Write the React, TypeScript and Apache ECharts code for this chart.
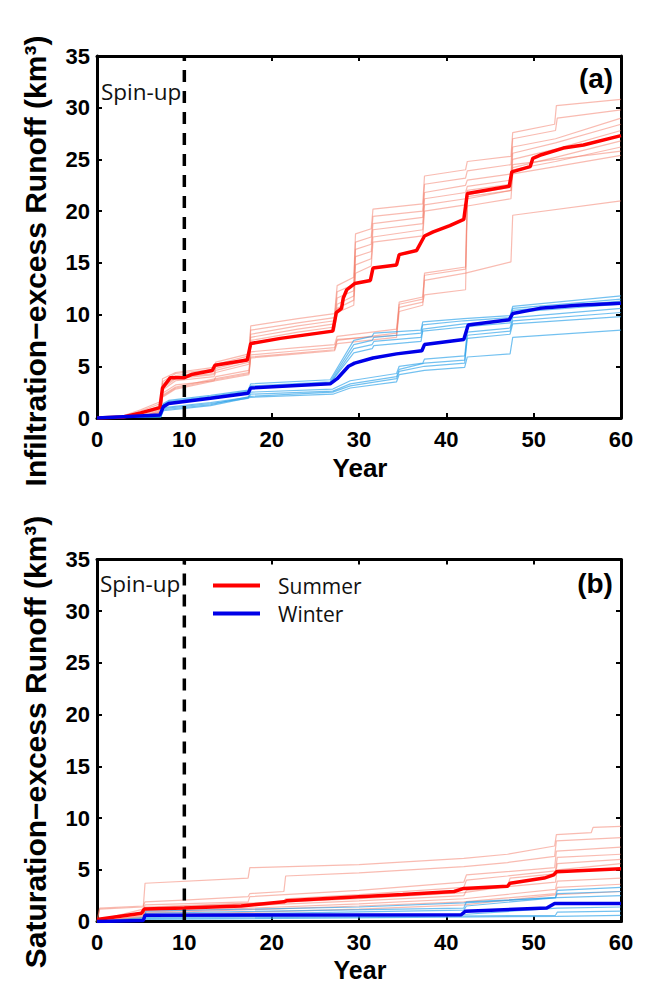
import React, { useEffect, useRef } from 'react';
import * as echarts from 'echarts';

// ---------- DATA (year, cumulative runoff km³) ----------
const xTicks = [0, 10, 20, 30, 40, 50, 60];
const yTicks = [0, 5, 10, 15, 20, 25, 30, 35];
const spinUpYear = 10;

// Panel (a): infiltration-excess runoff
const aSummerMean = [[0,0],[3,0.1],[5,0.5],[7.2,1.0],[7.5,2.9],[8.4,3.9],[10,3.9],[10.8,4.2],[13.2,4.6],[13.5,5.1],[17.2,5.6],[17.6,7.2],[21,7.7],[27,8.4],[27.4,10.2],[28,10.6],[28.2,11.6],[28.6,12.4],[29.5,13.0],[31.3,13.3],[31.6,14.5],[34.3,14.8],[34.6,15.8],[36.6,16.2],[37.5,17.6],[38.5,18.0],[40.4,18.6],[42,19.2],[42.4,21.7],[47.2,22.4],[47.5,23.8],[49.6,24.3],[49.9,25.1],[50.7,25.4],[53.4,26.1],[55.7,26.4],[60,27.3]];
const aWinterMean = [[0,0],[7.2,0.3],[7.6,1.1],[8.2,1.4],[13,1.9],[17.3,2.4],[17.6,2.9],[26.7,3.3],[27.5,3.8],[28.8,5.0],[29.5,5.3],[31.6,5.8],[34.3,6.2],[37.2,6.5],[37.5,7.1],[42,7.6],[42.5,9.0],[47.2,9.5],[47.6,10.1],[50.7,10.6],[55,10.9],[60,11.1]];

const aSummerRuns = [
  [[0,0],[3,0.2],[5,0.8],[7.3,1.6],[7.5,3.8],[9,4.4],[13.4,4.9],[13.6,5.4],[17.4,6.2],[17.6,8.9],[23,9.6],[27.2,10.1],[27.5,12.8],[29.4,13.6],[29.6,17.8],[31.4,18.3],[31.6,20.2],[37.3,20.7],[37.5,23.4],[42.2,24.0],[42.4,24.8],[47.4,25.3],[47.6,27.6],[52.4,28.4],[52.6,30.2],[60,30.8]],
  [[0,0],[3.5,0.2],[7.3,1.4],[7.5,3.5],[9,4.3],[13.4,4.7],[13.6,5.2],[17.4,6.0],[17.6,8.5],[23,9.2],[27.2,9.7],[27.5,12.2],[29.4,12.9],[29.6,17.0],[31.4,17.5],[31.6,19.5],[37.3,20.0],[37.5,22.6],[42.2,23.2],[42.4,23.9],[47.4,24.5],[47.6,27.0],[52.5,27.8],[52.7,29.0],[60,29.8]],
  [[0,0],[4,0.2],[7.3,1.2],[7.5,3.3],[9,4.1],[13.4,4.5],[13.6,5.0],[17.4,5.8],[17.6,8.1],[23,8.9],[27.2,9.4],[27.5,11.6],[29.4,12.3],[29.6,16.3],[31.4,16.8],[31.6,18.8],[37.3,19.4],[37.5,21.8],[42.2,22.5],[42.4,23.0],[47.4,23.6],[47.6,26.2],[52.5,27.0],[60,29.0]],
  [[0,0],[4,0.1],[7.3,1.0],[7.5,3.1],[9,3.9],[13.4,4.3],[13.6,4.8],[17.4,5.6],[17.6,7.8],[23,8.6],[27.2,9.1],[27.5,11.0],[29.4,11.8],[29.6,15.6],[31.4,16.1],[31.6,18.2],[37.3,18.8],[37.5,21.2],[42.2,21.8],[42.4,22.4],[47.4,23.0],[47.6,25.6],[52.5,26.6],[60,28.4]],
  [[0,0],[4.5,0.1],[7.3,0.9],[7.5,2.9],[9,3.8],[13.4,4.2],[13.6,4.6],[17.4,5.4],[17.6,7.5],[23,8.3],[27.2,8.8],[27.5,10.6],[29.4,11.4],[29.6,14.8],[31.4,15.4],[31.6,17.5],[37.3,18.2],[37.5,20.6],[42.2,21.2],[42.4,22.0],[47.4,22.6],[47.6,25.0],[52.5,26.0],[60,27.8]],
  [[0,0],[5,0.1],[7.3,0.8],[7.5,2.7],[9,3.6],[13.4,4.0],[13.6,4.4],[17.4,5.2],[17.6,7.2],[23,8.0],[27.2,8.5],[27.5,10.2],[29.4,10.9],[29.6,14.0],[31.4,14.7],[31.6,17.0],[37.3,17.6],[37.5,20.0],[42.2,20.6],[42.4,21.4],[47.4,22.0],[47.6,24.2],[52.5,25.2],[60,26.8]],
  [[0,0],[5,0.1],[7.3,0.7],[7.5,2.4],[9,3.2],[13.4,3.6],[13.6,4.0],[17.4,4.6],[17.6,6.4],[23,6.8],[27.2,7.1],[27.5,7.9],[34.3,8.6],[34.6,11.2],[37.3,11.7],[37.5,13.8],[42.2,14.4],[42.4,21.2],[47.4,22.0],[47.6,24.0],[52.5,24.8],[60,26.2]],
  [[0,0],[5,0.1],[7.3,0.6],[7.5,2.2],[9,3.0],[13.6,3.8],[17.4,4.4],[17.6,6.1],[23,6.5],[27.2,6.8],[27.5,7.5],[34.3,8.2],[34.6,10.7],[37.3,11.2],[37.5,11.9],[42.2,12.4],[42.4,20.5],[47.4,21.2],[47.6,23.6],[52.5,24.3],[60,25.4]],
  [[0,0],[5.5,0.1],[7.3,0.5],[7.5,2.0],[9,2.8],[13.6,3.6],[17.4,4.2],[17.6,5.8],[23,6.2],[27.2,6.5],[27.5,7.2],[34.3,7.8],[34.6,10.3],[37.3,10.9],[37.5,13.3],[42.2,14.0],[47.4,15.1],[47.6,19.6],[60,21.0]],
  [[0,0],[5.5,0.1],[7.3,0.6],[7.5,2.1],[9,2.9],[13.6,3.7],[17.4,4.3],[17.6,5.9],[27.2,6.6],[27.5,7.6],[34.3,8.0],[34.6,11.0],[37.3,11.5],[37.5,14.0],[42.2,14.6],[42.4,21.6],[47.4,22.3],[47.6,24.5],[60,25.8]],
];
const aWinterRuns = [
  [[0,0],[7.3,0.3],[7.6,1.4],[8.2,1.7],[13,2.2],[17.3,2.7],[17.6,3.3],[26.7,3.7],[27.2,4.4],[29.4,7.5],[31.5,7.9],[31.7,8.2],[37.1,8.5],[37.3,9.3],[42,9.6],[47.3,9.9],[47.6,10.8],[60,11.8]],
  [[0,0],[7.3,0.3],[7.6,1.3],[8.2,1.6],[13,2.1],[17.3,2.6],[17.6,3.1],[26.7,3.5],[27.2,4.2],[29.4,7.1],[31.5,7.5],[31.7,7.8],[37.1,8.2],[37.3,9.0],[42,9.4],[47.3,9.7],[47.6,10.6],[60,11.5]],
  [[0,0],[7.3,0.2],[7.6,1.2],[8.2,1.5],[13,2.0],[17.3,2.5],[17.6,3.0],[26.7,3.4],[27.2,4.0],[29.4,6.7],[31.5,7.1],[31.7,7.4],[37.1,7.8],[37.3,8.6],[42,9.1],[47.3,9.4],[47.6,10.4],[60,11.3]],
  [[0,0],[7.3,0.2],[7.6,1.1],[8.2,1.4],[13,1.9],[17.3,2.4],[17.6,2.9],[26.7,3.3],[27.2,3.9],[29.4,6.3],[31.5,6.7],[31.7,7.0],[37.1,7.4],[37.3,8.4],[42,8.8],[47.3,9.2],[47.6,10.2],[60,11.0]],
  [[0,0],[7.3,0.2],[7.6,1.0],[13,1.5],[17.3,2.0],[17.6,2.5],[27,2.8],[29,3.6],[34.3,4.3],[34.6,5.0],[37.3,5.3],[37.5,5.7],[42.1,6.0],[42.4,8.3],[47.3,8.7],[47.6,9.7],[60,10.6]],
  [[0,0],[7.3,0.1],[7.6,0.9],[13,1.4],[17.3,1.9],[17.6,2.3],[27,2.6],[29,3.3],[34.3,4.0],[34.6,4.7],[37.5,5.3],[42.1,5.6],[42.4,8.0],[47.3,8.4],[47.6,9.4],[60,10.2]],
  [[0,0],[7.3,0.1],[7.6,0.8],[13,1.3],[17.6,2.1],[27,2.5],[29,3.1],[34.3,3.8],[34.6,4.5],[37.5,5.0],[42.1,5.3],[42.4,7.7],[47.3,8.1],[47.6,9.1],[60,9.8]],
  [[0,0],[7.3,0.1],[7.6,0.7],[13,1.2],[17.6,2.0],[27,2.3],[29,2.9],[34.3,3.5],[34.6,4.2],[37.5,4.6],[42.1,4.9],[42.4,5.9],[47.3,6.2],[47.6,7.8],[60,8.5]],
];

// Panel (b): saturation-excess runoff
const bSummerMean = [[0,0.2],[5.1,0.8],[5.4,1.2],[10,1.3],[16.5,1.5],[21.4,1.9],[21.7,2.0],[30,2.4],[35,2.6],[40.9,2.9],[42,3.2],[47,3.4],[47.3,3.7],[51.2,4.2],[52.3,4.5],[52.6,4.8],[60,5.1]];
const bWinterMean = [[0,0],[5.3,0.1],[5.5,0.6],[41.7,0.65],[42.2,1.0],[51.5,1.3],[52.4,1.75],[60,1.75]];

const bSummerRuns = [
  [[0,0],[0.3,1.2],[5.3,1.4],[5.5,3.7],[17.3,4.2],[17.5,5.2],[30,5.5],[42,6.1],[47,6.5],[52.4,7.3],[52.6,8.4],[56.6,8.6],[56.8,9.1],[60,9.2]],
  [[0,0],[0.3,1.3],[5.3,1.5],[5.5,1.9],[10.5,2.1],[17.3,2.4],[17.5,2.7],[21.4,2.9],[21.6,4.4],[30,4.7],[42,5.3],[47,5.7],[52.4,6.3],[52.6,7.8],[60,8.1]],
  [[0,0.1],[5.3,1.2],[5.5,1.6],[17.3,1.9],[17.5,2.4],[30,3.0],[42,3.8],[42.3,4.5],[52.4,5.2],[52.6,6.8],[60,7.2]],
  [[0,0.1],[5.3,0.9],[5.5,1.4],[21.4,1.9],[21.6,2.2],[30,2.6],[42,3.3],[42.3,4.0],[47,4.4],[52.5,4.9],[52.7,6.2],[60,6.5]],
  [[0,0],[5.3,0.6],[5.5,1.3],[30,2.2],[42,2.8],[47,3.4],[47.3,4.2],[52.5,4.6],[52.7,5.6],[60,6.0]],
  [[0,0],[5.3,0.5],[5.5,1.1],[30,2.0],[42,2.5],[42.3,3.0],[52.5,3.8],[52.7,5.0],[60,5.6]],
  [[0,0],[5.3,0.4],[5.5,0.9],[30,1.7],[42,2.2],[52.5,3.1],[52.7,3.9],[60,4.2]],
  [[0,0],[5.3,0.3],[5.5,0.8],[30,1.5],[42,1.9],[52.5,2.7],[52.7,3.3],[60,3.6]],
  [[0,0],[5.3,0.3],[5.5,0.6],[30,1.2],[42,1.6],[52.7,2.6],[60,2.9]],
];
const bWinterRuns = [
  [[0,0],[5.4,0.1],[5.6,1.0],[30,1.4],[42,1.8],[52.5,2.3],[52.7,3.0],[60,3.3]],
  [[0,0],[5.4,0.1],[5.6,0.8],[42,1.3],[42.3,1.9],[52.5,2.3],[52.7,2.7],[60,2.9]],
  [[0,0],[5.4,0.1],[5.6,0.6],[42,1.1],[42.3,1.5],[52.7,2.3],[60,2.5]],
  [[0,0],[5.6,0.4],[42.3,0.7],[52.7,1.3],[60,1.4]],
  [[0,0],[5.6,0.3],[52.5,0.6],[52.7,0.9],[60,1.0]],
  [[0,0],[5.6,0.2],[52.7,0.5],[60,0.6]],
];

// ---------- STYLE ----------
const TICK_FONT = "'Liberation Sans', Arial, Helvetica, sans-serif";
const TEXT_FONT = "'Open Sans', 'Noto Sans', sans-serif";
const SUMMER = '#ff0000';
const WINTER = '#0000e8';
const SUMMER_LIGHT = 'rgba(244,120,100,0.5)';
const WINTER_LIGHT = 'rgba(40,160,232,0.65)';

function buildOption() {
  const grids = [
    { left: 97, top: 56, width: 524, height: 362 },
    { left: 97, top: 559.5, width: 524, height: 362 },
  ];
  const axisLine = { show: true, onZero: false, lineStyle: { color: '#000', width: 3 } };
  const axisTick = { show: true, inside: true, length: 5, lineStyle: { color: '#000', width: 2 } };
  const labelStyle = { color: '#000', fontFamily: TICK_FONT, fontWeight: 'bold' as const, fontSize: 22 };
  const xAxes: any[] = [];
  const yAxes: any[] = [];
  for (let g = 0; g < 2; g++) {
    ['bottom', 'top'].forEach((pos, k) => {
      xAxes.push({
        type: 'value', gridIndex: g, position: pos, min: xTicks[0], max: xTicks[xTicks.length - 1], interval: 10,
        axisLine, axisTick, splitLine: { show: false },
        axisLabel: { show: k === 0, margin: 10, ...labelStyle },
      });
    });
    ['left', 'right'].forEach((pos, k) => {
      yAxes.push({
        type: 'value', gridIndex: g, position: pos, min: yTicks[0], max: yTicks[yTicks.length - 1], interval: 5,
        axisLine, axisTick, splitLine: { show: false },
        axisLabel: { show: k === 0, margin: 7, ...labelStyle },
      });
    });
  }

  const series: any[] = [];
  const line = (data: number[][], g: number, color: string, width: number, name?: string, z = 2) => ({
    type: 'line', name, data, xAxisIndex: g * 2, yAxisIndex: g * 2,
    showSymbol: false, symbol: 'none', silent: true, z,
    lineStyle: { color, width }, itemStyle: { color },
  });
  aSummerRuns.forEach((d) => series.push(line(d, 0, SUMMER_LIGHT, 1.2)));
  aWinterRuns.forEach((d) => series.push(line(d, 0, WINTER_LIGHT, 1.2)));
  series.push(line(aSummerMean, 0, SUMMER, 3.5, 'Summer', 4));
  series.push(line(aWinterMean, 0, WINTER, 3.5, 'Winter', 4));
  bSummerRuns.forEach((d) => series.push(line(d, 1, SUMMER_LIGHT, 1.2)));
  bWinterRuns.forEach((d) => series.push(line(d, 1, WINTER_LIGHT, 1.2)));
  series.push(line(bSummerMean, 1, SUMMER, 3.5, 'Summer', 4));
  series.push(line(bWinterMean, 1, WINTER, 3.5, 'Winter', 4));
  for (let g = 0; g < 2; g++) {
    series.push({
      type: 'line', data: [[spinUpYear, yTicks[0]], [spinUpYear, yTicks[yTicks.length - 1]]],
      xAxisIndex: g * 2, yAxisIndex: g * 2, showSymbol: false, symbol: 'none', silent: true, z: 5,
      lineStyle: { color: '#000', width: 3.5, type: [12, 9] },
    });
  }

  const boldText = (text: string, x: number, y: number, size: number, rotation = 0) => ({
    type: 'text', x, y, rotation, silent: true,
    style: { text, fill: '#000', fontFamily: TICK_FONT, fontWeight: 'bold', fontSize: size, textAlign: 'center', textVerticalAlign: 'middle' },
  });
  const plainText = (text: string, x: number, y: number) => ({
    type: 'text', x, y, silent: true,
    style: { text, fill: '#111', fontFamily: TEXT_FONT, fontSize: 22.5, textAlign: 'left', textVerticalAlign: 'middle' },
  });

  return {
    animation: false,
    backgroundColor: '#fff',
    grid: grids,
    xAxis: xAxes,
    yAxis: yAxes,
    series,
    legend: {
      data: ['Summer', 'Winter'], orient: 'vertical', left: 213, top: 575, padding: 0,
      itemWidth: 47, itemHeight: 4, itemGap: 7, icon: 'rect', selectedMode: false,
      textStyle: { fontFamily: TEXT_FONT, fontSize: 21, color: '#111', lineHeight: 21, padding: [0, 0, 0, 13] },
    },
    graphic: [
      boldText('Infiltration−excess Runoff (km³)', 35, 261, 30, Math.PI / 2),
      boldText('Saturation−excess Runoff (km³)', 35, 742, 30, Math.PI / 2),
      boldText('Year', 360, 468, 26),
      boldText('Year', 360, 970, 25),
      boldText('(a)', 596, 78, 28),
      boldText('(b)', 595, 583, 28),
      plainText('Spin-up', 101, 91),
      plainText('Spin-up', 100, 583),
    ],
  };
}

export default function App() {
  const ref = useRef<HTMLDivElement>(null);
  useEffect(() => {
    if (!ref.current) return;
    const chart = echarts.init(ref.current, undefined, { renderer: 'svg' });
    chart.setOption(buildOption() as any);
    return () => chart.dispose();
  }, []);
  return <div ref={ref} style={{ position: 'absolute', left: 0, top: 0, width: 650, height: 985, background: '#fff' }} />;
}
